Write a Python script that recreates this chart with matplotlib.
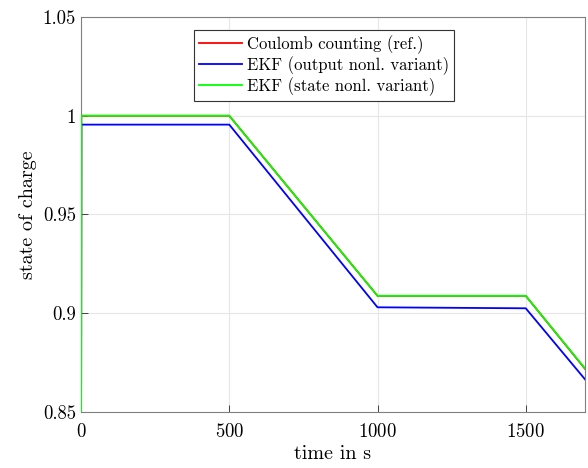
import matplotlib
matplotlib.use("Agg")
import matplotlib.pyplot as plt

plt.rcParams["font.family"] = "serif"
plt.rcParams["font.serif"] = ["cmr10", "DejaVu Serif"]
plt.rcParams["mathtext.fontset"] = "cm"
plt.rcParams["axes.formatter.use_mathtext"] = True

# time breakpoints in s
time_s = [0, 1, 500, 1000, 1500, 1700]

# state of charge at each breakpoint
soc_coulomb = [0.80, 1.000, 1.000, 0.9088, 0.9088, 0.8718]
soc_ekf_output = [0.80, 0.9955, 0.9955, 0.9030, 0.9025, 0.8665]
soc_ekf_state = [0.80, 1.000, 1.000, 0.9088, 0.9088, 0.8720]

x_ticks = [0, 500, 1000, 1500]
y_ticks = [0.85, 0.9, 0.95, 1.0, 1.05]
y_tick_labels = ["0.85", "0.9", "0.95", "1", "1.05"]

fig = plt.figure(figsize=(5.88, 4.68), dpi=100)
ax = fig.add_axes([0.1378, 0.1197, 0.8572, 0.844])

ax.plot(time_s, soc_coulomb, color="#ff0000", linewidth=1.3, zorder=3, label="Coulomb counting (ref.)")
ax.plot(time_s, soc_ekf_output, color="#0000ff", linewidth=1.3, zorder=3, label="EKF (output nonl. variant)")
ax.plot(time_s, soc_ekf_state, color="#00ff00", linewidth=1.3, zorder=3, label="EKF (state nonl. variant)")

ax.set_xlim(0, 1700)
ax.set_ylim(0.85, 1.05)
ax.set_xticks(x_ticks)
ax.set_yticks(y_ticks)
ax.set_yticklabels(y_tick_labels)
ax.grid(True, color="#e6e6e6", linewidth=0.8)
ax.set_axisbelow(True)
ax.tick_params(direction="in", length=5, labelsize=13.5, colors="#262626", width=0.6)
ax.tick_params(axis="x", pad=8)
for label in ax.get_xticklabels() + ax.get_yticklabels():
    label.set_color("black")
for spine in ax.spines.values():
    spine.set_color("#808080")
    spine.set_linewidth(0.8)

ax.set_xlabel("time in s", fontsize=14.5, labelpad=3)
ax.set_ylabel("state of charge", fontsize=14.5, labelpad=4)

legend = ax.legend(loc="upper center", bbox_to_anchor=(0.482, 0.967), fontsize=12,
                   fancybox=False, framealpha=1, edgecolor="#333333",
                   handlelength=2.6, handletextpad=0.3, borderpad=0.3,
                   labelspacing=0.15, borderaxespad=0)
legend.get_frame().set_linewidth(0.8)
legend.set_zorder(5)

fig.savefig("out.png", dpi=100)
